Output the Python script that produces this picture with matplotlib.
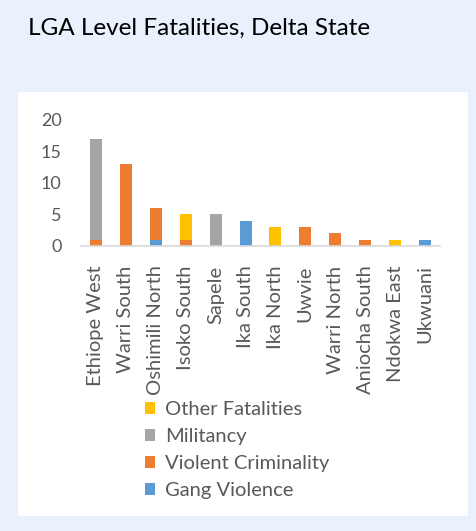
import matplotlib.pyplot as plt
from matplotlib.patches import Rectangle
import numpy as np

# Data
lgas = ['Ethiope West', 'Warri South', 'Oshimili North', 'Isoko South', 'Sapele',
        'Ika South', 'Ika North', 'Uwvie', 'Warri North', 'Aniocha South',
        'Ndokwa East', 'Ukwuani']
gang_violence = [0, 0, 1, 0, 0, 4, 0, 0, 0, 0, 0, 1]
violent_criminality = [1, 13, 5, 1, 0, 0, 0, 3, 2, 1, 0, 0]
militancy = [16, 0, 0, 0, 5, 0, 0, 0, 0, 0, 0, 0]
other_fatalities = [0, 0, 0, 4, 0, 0, 3, 0, 0, 0, 1, 0]
y_ticks = [0, 5, 10, 15, 20]

plt.rcParams['font.family'] = ['Lato', 'DejaVu Sans']

fig = plt.figure(figsize=(4.77, 5.31), dpi=100)
fig.patch.set_facecolor('#e9f2fc')

# white chart panel
fig.patches.append(Rectangle((18 / 477, 1 - 516 / 531), 450 / 477, 424 / 531,
                             transform=fig.transFigure, facecolor='white',
                             edgecolor='none', zorder=0))

fig.text(28 / 477, 1 - 28 / 531, 'LGA Level Fatalities, Delta State',
         fontsize=17.5, color='black', va='center', ha='left')

ax = fig.add_axes([81 / 477, 1 - 246 / 531, 359 / 477, 126 / 531])
ax.set_facecolor('none')
ax.set_zorder(3)

x = np.arange(len(lgas))
w = 0.4
series = [
    ('Gang Violence', gang_violence, '#5b9bd5'),
    ('Violent Criminality', violent_criminality, '#ed7d31'),
    ('Militancy', militancy, '#a5a5a5'),
    ('Other Fatalities', other_fatalities, '#ffc000'),
]
bottom = np.zeros(len(lgas))
handles = []
for name, vals, col in series:
    b = ax.bar(x, vals, w, bottom=bottom, color=col, label=name, zorder=2)
    handles.append(b)
    bottom += np.array(vals)

ax.set_xlim(-0.5, len(lgas) - 0.5)
ax.set_ylim(0, 20)
ax.set_yticks(y_ticks)
ax.set_xticks(x)
ax.set_xticklabels(lgas, rotation=90, fontsize=14.5)
ax.tick_params(axis='both', length=0, colors='#595959')
ax.tick_params(axis='y', pad=14, labelsize=13)
ax.tick_params(axis='x', pad=14)
for s in ['top', 'right', 'left']:
    ax.spines[s].set_visible(False)
ax.spines['bottom'].set_color('#d9d9d9')
ax.spines['bottom'].set_linewidth(1.2)

leg = fig.legend(handles[::-1], [s[0] for s in series][::-1],
                 loc='upper left', bbox_to_anchor=(145 / 477, 1 - 401 / 531),
                 frameon=False, fontsize=14.5, handlelength=0.5, handleheight=0.5,
                 handletextpad=0.5, labelspacing=0.5, labelcolor='#595959',
                 borderpad=0, borderaxespad=0)
leg.set_zorder(4)

fig.savefig('out.png', dpi=100, facecolor=fig.get_facecolor())
